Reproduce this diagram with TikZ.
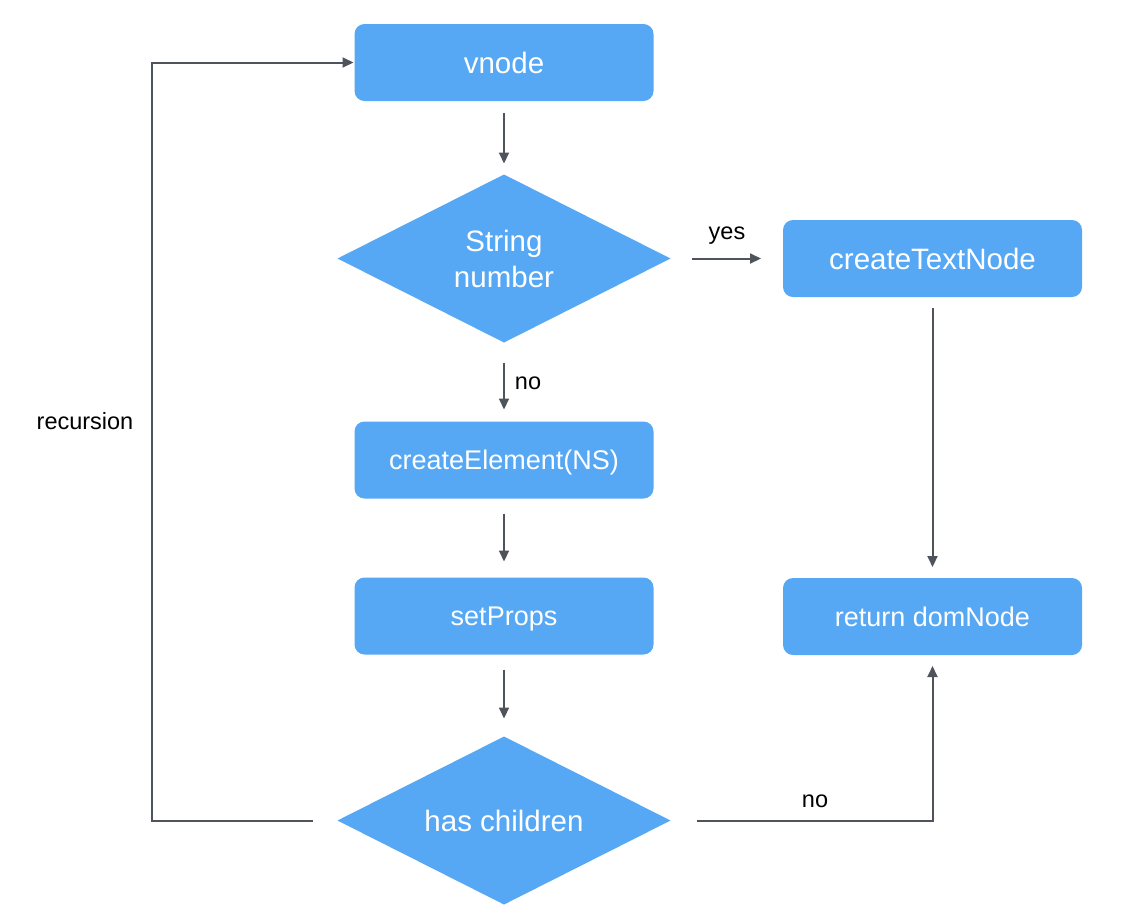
\documentclass[tikz,border=0pt]{standalone}
\usepackage{fontspec}
\setmainfont{Liberation Sans}
\usetikzlibrary{shapes.geometric,arrows.meta}
\definecolor{boxblue}{HTML}{56A8F5}
\definecolor{linegray}{HTML}{4F545C}
\tikzset{
  procbox/.style={draw=none, fill=boxblue, rounded corners=10pt, minimum width=299pt, minimum height=77pt, inner sep=0pt, outer sep=0pt, text=white, text depth=0pt},
  bigtxt/.style={font=\fontsize{29.5}{36}\selectfont, text height=21pt},
  smalltxt/.style={font=\fontsize{27}{32}\selectfont, text height=19.5pt},
  decision/.style={diamond, draw=none, fill=boxblue, aspect=1.982, minimum width=333pt, minimum height=168pt, inner sep=0pt, outer sep=0pt, text=white, align=center, font=\fontsize{29.5}{36}\selectfont},
  arr/.style={draw=linegray, line width=2pt, -{Triangle[length=11pt,width=10pt]}},
  lbl/.style={font=\fontsize{23.5}{28}\selectfont, text=black, inner sep=0pt},
}
\begin{document}
\begin{tikzpicture}[x=1pt,y=-1pt]
\useasboundingbox (0,0) rectangle (1126,906);
\node[procbox, bigtxt] (vnode) at (504,62.5) {vnode};
\node[decision] (d1) at (504,258.5) {String\\number};
\node[procbox, bigtxt] (ctn) at (932.5,258.5) {createTextNode};
\node[procbox, smalltxt] (ce) at (504,460) {createElement(NS)};
\node[procbox, smalltxt] (sp) at (504,616) {setProps};
\node[procbox, smalltxt] (ret) at (932.5,616.5) {return domNode};
\node[decision] (d2) at (504,820.5) {has children};
\coordinate (loopx) at (152,0);

\draw[arr, shorten <=12pt, shorten >=11pt] (vnode.south) -- (d1.north);
\draw[arr, shorten <=21pt, shorten >=22pt] (d1.east) -- (ctn.west);
\node[lbl] (yes) at (727,236) {yes};
\draw[arr, shorten <=11pt, shorten >=11pt] (ctn.south) -- (ret.north);
\draw[arr, shorten <=20pt, shorten >=12pt] (d1.south) -- (ce.north);
\node[lbl] (no1) at (528,383) {no};
\draw[arr, shorten <=15pt, shorten >=16pt] (ce.south) -- (sp.north);
\draw[arr, shorten <=15pt, shorten >=18pt] (sp.south) -- (d2.north);
\draw[arr, shorten <=26pt, shorten >=11pt] (d2.east) -| (ret.south);
\node[lbl] (no2) at (815,801) {no};
\draw[arr, shorten <=25pt, shorten >=1pt] (d2.west) -- (loopx |- d2.west) |- (vnode.west);
\node[lbl] (rec) at (85,421) {recursion};
\end{tikzpicture}
\end{document}
